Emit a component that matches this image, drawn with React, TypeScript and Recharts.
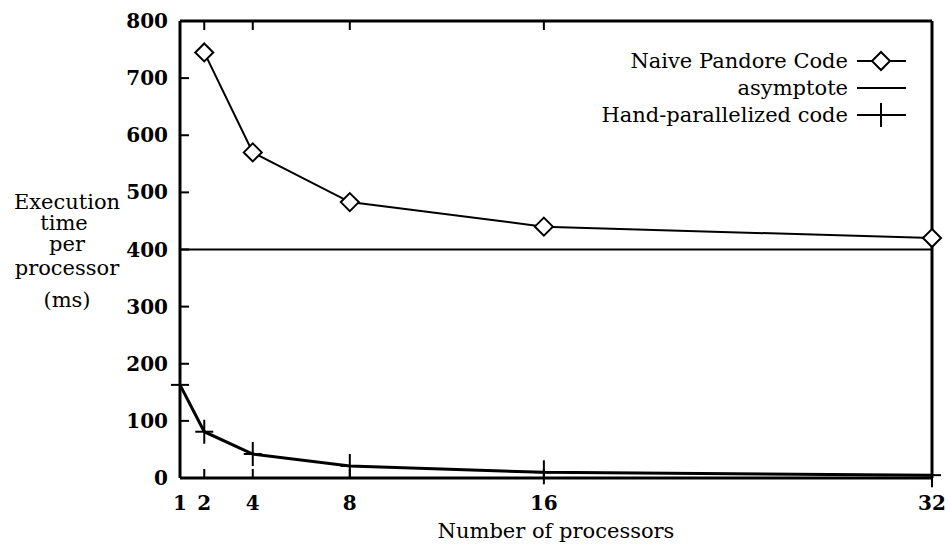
import { LineChart, Line, XAxis, YAxis, ReferenceLine, Label } from "recharts";

const processors = [1, 2, 4, 8, 16, 32];
const naiveTime = [null, 745, 570, 483, 440, 420];
const handTime = [163, 81, 42, 21, 10, 5];
const asymptote = 400;
const yTicks = [0, 100, 200, 300, 400, 500, 600, 700, 800];

const data = processors.map((p, i) => ({ p, naive: naiveTime[i], hand: handTime[i] }));

const FONT = "'DejaVu Serif', serif";

if (typeof document !== "undefined") document.body.style.margin = "0";

function Diamond(props: any) {
  const { cx, cy } = props;
  if (cx == null || cy == null || props.value == null) return null;
  const r = 9;
  return (
    <path
      d={`M${cx},${cy - r}L${cx + r},${cy}L${cx},${cy + r}L${cx - r},${cy}Z`}
      fill="#fff"
      stroke="#000"
      strokeWidth={2}
    />
  );
}

function Plus(props: any) {
  const { cx, cy } = props;
  if (cx == null || cy == null) return null;
  return (
    <g stroke="#000" strokeWidth={2}>
      <line x1={cx - 9} y1={cy} x2={cx + 9} y2={cy} />
      <line x1={cx} y1={cy - 12} x2={cx} y2={cy + 12} />
    </g>
  );
}

const BottomTick = (props: any) => {
  const { x, y, payload } = props;
  return (
    <g>
      <line x1={x} y1={y} x2={x} y2={y - 9} stroke="#000" strokeWidth={2} />
      <text x={x} y={y + 32} textAnchor="middle" fontFamily={FONT} fontWeight="bold" fontSize={20} fill="#000">
        {payload.value}
      </text>
    </g>
  );
};

const TopTick = (props: any) => {
  const { x, y } = props;
  return <line x1={x} y1={y} x2={x} y2={y + 9} stroke="#000" strokeWidth={2} />;
};

const LeftTick = (props: any) => {
  const { x, y, payload } = props;
  return (
    <g>
      <line x1={x} y1={y} x2={x + 9} y2={y} stroke="#000" strokeWidth={2} />
      <text x={x - 12} y={y + 7} textAnchor="end" fontFamily={FONT} fontWeight="bold" fontSize={20} fill="#000">
        {payload.value}
      </text>
    </g>
  );
};

const RightTick = (props: any) => {
  const { x, y } = props;
  return <line x1={x} y1={y} x2={x - 9} y2={y} stroke="#000" strokeWidth={2} />;
};

const legendItems = [
  { label: "Naive Pandore Code", kind: "diamond" },
  { label: "asymptote", kind: "line" },
  { label: "Hand-parallelized code", kind: "plus" },
];

const LegendBox = () => (
  <svg width={320} height={90} style={{ position: "absolute", left: 600, top: 46 }}>
    {legendItems.map((it, i) => {
      const y = 15 + i * 27;
      return (
        <g key={it.label}>
          <text x={248} y={y + 7} textAnchor="end" fontFamily={FONT} fontSize={21} fill="#000">
            {it.label}
          </text>
          <line x1={257} y1={y} x2={306} y2={y} stroke="#000" strokeWidth={2} />
          {it.kind === "diamond" && <Diamond cx={281} cy={y} value={1} />}
          {it.kind === "plus" && <Plus cx={281} cy={y} />}
        </g>
      );
    })}
  </svg>
);

const YTitle = () => (
  <g fontFamily={FONT} fontSize={21} fill="#000" textAnchor="middle">
    <text x={67} y={209}>Execution</text>
    <text x={64} y={230}>time</text>
    <text x={67} y={251}>per</text>
    <text x={67} y={275}>processor</text>
    <text x={67} y={307}>(ms)</text>
  </g>
);

export default function App() {
  return (
    <div style={{ position: "relative", width: 949, height: 544 }}>
      <LineChart
        width={949}
        height={544}
        data={data}
        margin={{ top: 20, right: 16, bottom: 36, left: 120 }}
        style={{ fontFamily: FONT }}
      >
        <XAxis
          xAxisId="b"
          dataKey="p"
          type="number"
          domain={[1, 32]}
          ticks={processors}
          tickSize={0}
          tickMargin={0}
          height={30}
          tick={<BottomTick />}
          axisLine={{ stroke: "#000", strokeWidth: 3 }}
        >
          <Label
            content={() => (
              <text x={556} y={538} textAnchor="middle" fontFamily={FONT} fontSize={21} fill="#000">
                Number of processors
              </text>
            )}
          />
        </XAxis>
        <XAxis
          xAxisId="t"
          dataKey="p"
          type="number"
          orientation="top"
          domain={[1, 32]}
          ticks={processors}
          tickSize={0}
          tickMargin={0}
          height={1}
          tick={<TopTick />}
          axisLine={{ stroke: "#000", strokeWidth: 3 }}
        />
        <YAxis
          yAxisId="l"
          type="number"
          domain={[0, 800]}
          ticks={yTicks}
          tickSize={0}
          tickMargin={0}
          width={60}
          tick={<LeftTick />}
          axisLine={{ stroke: "#000", strokeWidth: 3 }}
        >
          <Label content={() => <YTitle />} />
        </YAxis>
        <YAxis
          yAxisId="r"
          orientation="right"
          type="number"
          domain={[0, 800]}
          ticks={yTicks}
          tickSize={0}
          tickMargin={0}
          width={1}
          tick={<RightTick />}
          axisLine={{ stroke: "#000", strokeWidth: 3 }}
        />
        <ReferenceLine xAxisId="b" yAxisId="l" y={asymptote} stroke="#000" strokeWidth={2} />
        <Line
          xAxisId="b"
          yAxisId="l"
          dataKey="naive"
          stroke="#000"
          strokeWidth={2}
          dot={<Diamond />}
          connectNulls
          isAnimationActive={false}
        />
        <Line
          xAxisId="b"
          yAxisId="l"
          dataKey="hand"
          stroke="#000"
          strokeWidth={3}
          dot={<Plus />}
          isAnimationActive={false}
        />
      </LineChart>
      <LegendBox />
    </div>
  );
}
